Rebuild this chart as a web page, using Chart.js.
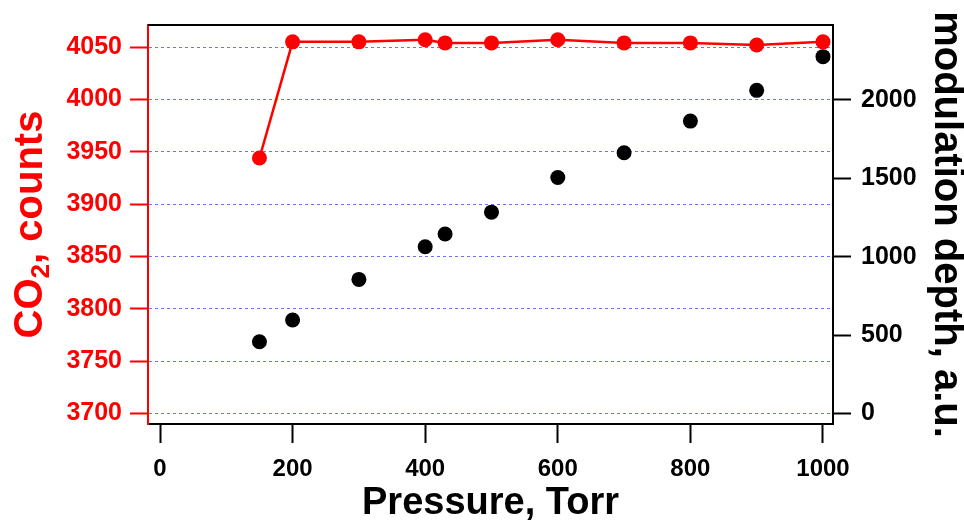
<!DOCTYPE html>
<html>
<head>
<meta charset="utf-8">
<script src="https://cdn.jsdelivr.net/npm/chart.js@4/dist/chart.umd.min.js"></script>
<style>
  html, body { margin: 0; padding: 0; background: #fff; }
  #wrap { width: 964px; height: 525px; }
</style>
</head>
<body>
<div id="wrap"><canvas id="chart" width="964" height="525"></canvas></div>
<script>
// pressure in Torr
let pressures = [150, 200, 300, 400, 430, 500, 600, 700, 800, 900, 1000];
// CO2 counts (left axis, red)
let co2Counts = [3944, 4055, 4055, 4057, 4054, 4054, 4057, 4054, 4054, 4052, 4055];
// modulation depth (right axis, black)
let modDepth = [457, 596, 855, 1063, 1145, 1284, 1505, 1663, 1865, 2061, 2276];

let xTicks = [0, 200, 400, 600, 800, 1000];
let leftTicks = [3700, 3750, 3800, 3850, 3900, 3950, 4000, 4050];
let rightTicks = [0, 500, 1000, 1500, 2000];

const FONT = "'Liberation Sans', Arial, Helvetica, sans-serif";

function fixTicks(arr) {
    return function(axis) { axis.ticks = arr.map(v => ({ value: v })); };
}
let plain = v => String(v);

// top edge of the frame + left title with a real subscript
const extras = {
    id: 'extras',
    afterDraw(chart) {
        let a = chart.chartArea, c = chart.ctx;
        c.save();
        c.strokeStyle = '#000';
        c.lineWidth = 2;
        c.beginPath();
        c.moveTo(a.left, a.top);
        c.lineTo(a.right + 1, a.top);
        c.stroke();

        let parts = [['CO', 40, 0], ['2', 26, 7], [', counts', 40, 0]];
        let total = 0;
        parts.forEach(p => { c.font = 'bold ' + p[1] + 'px ' + FONT; total += c.measureText(p[0]).width; });
        c.translate(42, (a.top + a.bottom) / 2);
        c.rotate(-Math.PI / 2);
        c.fillStyle = '#ff0000';
        c.textBaseline = 'alphabetic';
        c.textAlign = 'left';
        let x = -total / 2;
        parts.forEach(p => {
            c.font = 'bold ' + p[1] + 'px ' + FONT;
            c.fillText(p[0], x, p[2]);
            x += c.measureText(p[0]).width;
        });
        c.restore();
    }
};

let ctx = document.getElementById('chart').getContext('2d');
let chart = new Chart(ctx, {
    type: 'line',
    data: {
        datasets: [{
            label: 'CO2',
            data: pressures.map((p, i) => ({ x: p, y: co2Counts[i] })),
            yAxisID: 'y',
            borderColor: '#ff0000',
            backgroundColor: '#ff0000',
            borderWidth: 2.5,
            pointRadius: 7.5,
            pointBorderWidth: 0,
            tension: 0,
            fill: false
        }, {
            label: 'modulation',
            data: pressures.map((p, i) => ({ x: p, y: modDepth[i] })),
            yAxisID: 'y2',
            showLine: false,
            borderColor: '#000',
            backgroundColor: '#000',
            pointRadius: 7.5,
            pointBorderWidth: 0
        }]
    },
    options: {
        responsive: false,
        animation: false,
        devicePixelRatio: 1,
        layout: { padding: { top: 21, left: 0, right: 0, bottom: 0 } },
        plugins: { legend: { display: false }, tooltip: { enabled: false } },
        scales: {
            x: {
                type: 'linear',
                position: 'bottom',
                min: -18.1, max: 1015.1,
                afterBuildTicks: fixTicks(xTicks),
                afterFit: s => { s.height = 101; },
                grid: { drawOnChartArea: false, tickLength: 19, tickWidth: 2, color: '#000' },
                border: { color: '#000', width: 2 },
                ticks: { color: '#000', padding: 12, maxRotation: 0, callback: plain, font: { family: FONT, size: 24, weight: 'bold' } },
                title: {
                    display: true, text: 'Pressure, Torr', color: '#000',
                    padding: { top: 0, bottom: 2.5 },
                    font: { family: FONT, size: 38, weight: 'bold', lineHeight: 1 }
                }
            },
            y: {
                type: 'linear',
                position: 'left',
                min: 3689.9, max: 4071.1,
                afterBuildTicks: fixTicks(leftTicks),
                afterFit: s => { s.width = 148; },
                grid: { color: '#6f6fff', lineWidth: 1, tickLength: 18, tickWidth: 2, tickColor: '#ff0000', tickBorderDash: [] },
                border: { color: '#ff0000', width: 2, dash: [3, 3] },
                ticks: { color: '#ff0000', padding: 8, callback: plain, font: { family: FONT, size: 25, weight: 'bold' } },
                title: { display: false }
            },
            y2: {
                type: 'linear',
                position: 'right',
                min: -67.6, max: 2478,
                afterBuildTicks: fixTicks(rightTicks),
                afterFit: s => { s.width = 131; },
                grid: { drawOnChartArea: false, tickLength: 18, tickWidth: 2, color: '#000' },
                border: { color: '#000', width: 2 },
                ticks: { color: '#000', padding: 10, callback: plain, font: { family: FONT, size: 25, weight: 'bold' } },
                title: {
                    display: true, text: 'modulation depth, a.u.', color: '#000',
                    padding: { top: 0, bottom: 0 },
                    font: { family: FONT, size: 40, weight: 'bold', lineHeight: 0.9 }
                }
            }
        }
    },
    plugins: [extras]
});
</script>
</body>
</html>
